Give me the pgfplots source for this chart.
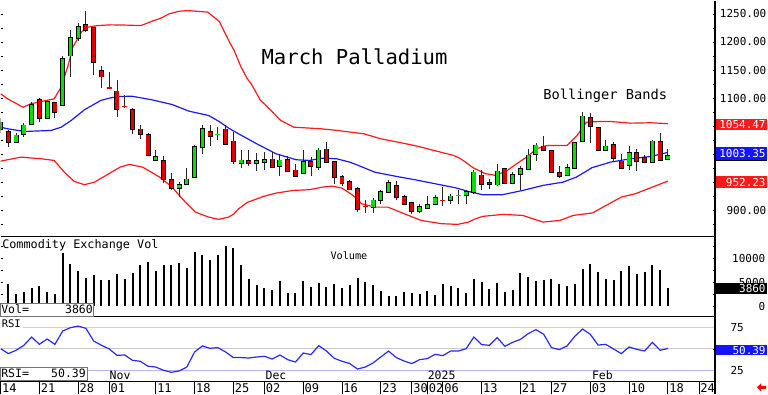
\documentclass[border=0pt]{standalone}
\usepackage{pgfplots}
\pgfplotsset{compat=1.18}
\usepackage{pgfplotstable}
\usepackage{fontspec}
\setmainfont{DejaVu Sans Mono}
\newcommand\fs[1]{\fontsize{#1}{#1}\selectfont}
\definecolor{cgreen}{RGB}{0,225,0}
\definecolor{cred}{RGB}{225,0,0}
\definecolor{bandred}{RGB}{255,25,25}
\definecolor{bandblue}{RGB}{25,25,255}
\definecolor{rsiblue}{RGB}{40,40,255}
\definecolor{boxred}{RGB}{255,25,25}
\definecolor{boxblue}{RGB}{20,20,255}

\pgfplotstableread{
i O H L C
0 1044.2 1063.7 1037.0 1056.6
2 1021.6 1037.6 1019.8 1033.5
3 1035.3 1055.4 1030.5 1051.3
4 1053.1 1092.7 1051.3 1088.6
6 1065.0 1094.0 1063.2 1092.7
8 1086.9 1175.8 1085.1 1170.0
9 1175.8 1221.6 1138.5 1206.6
10 1207.3 1233.3 1201.3 1227.4
20 989.0 1008.0 987.2 994.9
23 940.4 950.4 923.7 945.8
24 947.5 976.0 946.3 955.2
25 959.3 1016.9 958.2 1012.7
26 1012.7 1051.3 999.7 1045.4
31 984.9 1006.8 976.0 989.0
33 984.2 1002.0 969.4 987.7
34 986.0 1003.8 972.4 990.2
36 979.6 997.9 960.5 989.0
39 966.4 1006.8 965.3 986.0
41 977.1 1011.6 972.4 1006.8
48 905.9 922.6 895.2 917.8
49 917.8 936.9 911.9 932.6
50 932.6 954.6 930.8 948.6
54 898.8 911.9 895.2 905.9
55 904.8 924.9 903.0 910.2
56 910.7 926.7 908.9 922.6
58 917.8 929.7 911.9 924.9
60 926.7 936.9 911.9 932.6
61 932.1 971.2 928.5 967.6
64 945.8 981.9 942.7 969.4
66 949.3 968.2 947.5 963.5
67 965.3 978.3 935.6 974.2
68 974.2 1009.8 972.4 997.9
69 999.7 1019.8 987.7 1015.7
73 962.3 983.1 960.5 976.0
74 976.0 1021.6 974.2 1019.8
75 1022.8 1074.9 1021.6 1067.3
78 1008.0 1024.6 1005.5 1013.9
81 980.1 1013.9 971.2 1002.0
84 986.0 1024.6 984.9 1022.8
86 990.8 1009.8 989.0 996.6
}\upc

\pgfplotstableread{
i O H L C
1 1039.4 1042.4 1012.7 1021.6
5 1097.0 1099.9 1057.1 1065.0
7 1091.0 1092.7 1065.0 1074.9
11 1231.0 1255.9 1217.3 1221.6
12 1224.4 1225.1 1142.0 1163.9
13 1147.9 1156.8 1118.4 1138.5
15 1111.8 1132.6 1066.0 1081.0
17 1079.7 1082.8 1036.5 1044.2
18 1044.2 1052.5 1027.6 1035.3
19 1034.7 1037.6 997.4 999.1
21 987.7 996.6 948.6 956.4
22 954.6 966.4 936.9 940.4
27 1039.4 1051.3 1015.2 1031.7
29 1044.2 1051.3 1017.5 1018.7
30 1022.8 1039.4 983.1 987.2
32 987.7 1006.8 978.3 984.2
35 990.8 1003.8 976.0 977.1
37 990.2 996.1 968.2 970.0
38 971.2 981.9 960.5 961.1
40 986.0 994.9 960.5 978.3
42 1008.6 1021.6 984.2 986.0
43 986.0 987.2 947.5 959.3
44 959.3 962.3 942.7 948.6
45 950.4 954.6 935.6 936.9
46 938.6 941.5 897.0 903.0
51 943.3 952.2 917.8 923.7
52 923.7 926.7 910.7 911.9
53 913.7 914.9 894.1 898.8
62 962.3 972.4 936.9 947.5
63 948.6 956.4 937.4 946.3
65 974.2 976.0 948.6 949.3
70 1013.9 1031.7 1005.5 1006.8
71 1005.5 1008.0 966.4 968.2
72 967.1 978.3 958.2 961.1
76 1065.0 1073.2 1019.8 1049.5
77 1047.2 1048.2 1005.5 1008.0
79 1016.9 1021.6 987.2 993.8
80 987.2 1000.9 974.2 976.0
82 1002.0 1009.8 970.0 987.7
83 993.8 997.9 984.9 986.0
85 1021.6 1037.6 987.7 989.0
}\downc

\pgfplotstableread{
i O H L C
14 1118.4 1146.1 1116.6 1117.1
16 1085.6 1104.7 1082.8 1084.5
47 907.7 919.1 895.2 906.6
57 918.4 941.5 908.4 917.3
}\dojired

\pgfplotstableread{
i O H L C
28 1034.2 1048.2 1025.8 1035.3
59 926.2 935.6 911.9 927.3
}\dojigreen

\pgfplotstableread{
i p
0 1107.7
0.9 1098.8
2.9 1083.8
3.9 1089.9
6.9 1098.8
7.8 1119.4
8.7 1158.0
9.3 1190.6
10.4 1217.3
11.2 1226.2
12.5 1229.2
14.2 1230.5
16 1230.1
18.1 1229.2
19.5 1236.9
20.7 1242.6
21.7 1250.0
23 1254.7
24.1 1255.9
26.7 1253.2
28.2 1236.3
29.4 1202.5
30.1 1184.7
31 1155.0
31.8 1134.4
32.3 1125.5
33.5 1095.8
34 1089.9
36.1 1060.2
37.8 1048.2
41.3 1045.4
43.4 1042.4
46.8 1036.5
49 1027.6
51.2 1021.6
53.3 1015.7
55 1009.8
56.7 1003.8
58.4 997.9
59.3 992.0
60.2 983.1
60.9 976.0
62.5 965.3
63.9 962.3
65.3 971.2
66.5 983.1
67.8 994.9
69.1 1009.8
70.4 1015.7
73 1015.7
74.3 1033.5
75.5 1057.1
77.3 1058.4
78.6 1058.4
81.2 1055.4
83.8 1056.1
86 1054.47
}\upperband

\pgfplotstableread{
i p
0 1048.2
0.9 1045.4
3.1 1040.6
6.5 1042.4
7.8 1048.2
9.1 1060.2
10.8 1079.2
12.9 1095.8
14.2 1100.6
15.5 1102.9
16.9 1103.4
19.5 1097.0
22.1 1088.6
24.3 1076.7
26.8 1069.1
28.1 1058.9
29.4 1046.5
30.6 1037.0
33 1018.7
35.5 1000.9
38.1 990.2
39.8 989.0
41.5 993.1
43.3 992.0
45 986.0
45.8 981.9
48.2 968.2
50.8 961.1
53.4 954.6
56 947.5
58.6 940.4
60.3 933.8
61.2 930.8
62.1 928.0
64.7 928.0
67.3 935.6
69.9 944.5
72.5 950.4
74.2 959.3
75.5 970.0
76.2 976.0
78.6 986.0
81.2 992.0
83.8 996.1
86 1003.35
}\midband

\pgfplotstableread{
i p
0 987.7
0.9 990.2
2.6 994.9
5.2 992.0
6.9 989.0
8.2 968.2
9.5 951.6
10.8 945.8
12.1 950.4
13.8 964.1
15.4 977.1
16.6 981.9
18.3 977.1
20.5 959.3
22.1 941.5
23.8 914.8
25.1 897.0
26.8 888.1
28.1 884.0
29.4 888.1
30.1 894.1
30.7 903.0
31.8 914.3
33.9 925.0
35.5 930.8
37.7 935.6
39.8 936.9
41.5 941.5
42.7 943.3
44 939.7
45.1 929.7
45.9 921.4
46.5 911.9
48.2 905.9
49.9 905.9
52 894.1
54.2 882.2
56.8 876.4
58.9 875.1
60.3 879.2
61 884.0
62.1 889.3
64.7 892.9
67.3 891.1
69.9 879.2
72.1 882.2
73.8 891.1
75.5 894.1
76.3 895.6
77.8 907.1
80 923.7
81.8 929.7
83.8 940.4
86 952.23
}\lowerband

\pgfplotstableread{
i V
1 4521
2 2583
3 2854
4 3750
5 4167
6 2854
7 2583
8 11125
9 8833
10 7229
11 5917
12 6458
13 5354
14 5354
15 6604
16 5708
17 6958
18 8542
19 9250
20 7375
21 8542
22 8625
23 9042
24 7854
25 11187
26 10562
27 9583
28 10708
29 12437
30 12021
31 8625
32 5562
33 4312
34 3750
35 3271
36 5146
37 2708
38 2708
39 5292
40 3958
41 4875
42 3958
43 4521
44 3750
45 4312
46 5771
47 5083
48 4458
49 3125
50 2021
51 2166
52 2916
53 2708
54 2500
55 3208
56 2375
57 4521
58 4167
59 3750
60 2708
61 5562
62 4937
63 3625
64 4729
65 2854
66 3416
67 6875
68 6041
69 5146
70 5500
71 5562
72 4521
73 4104
74 4521
75 7791
76 8687
77 7083
78 5708
79 5500
80 7229
81 8271
82 6750
83 7021
84 8479
85 7437
86 3860
}\vol

\pgfplotstableread{
i R
0 50.2
1 44.4
2 48.3
3 54.1
4 63.7
5 55.2
6 61.4
7 55.2
8 70.7
9 74.6
10 76.5
11 73.8
12 59.1
13 54.1
14 49.8
15 42.4
16 42.8
17 36.6
18 35.5
19 29.7
20 28.8
21 25.0
22 22.7
23 24.2
24 28.8
25 46.3
26 53.3
27 50.6
28 51.4
29 46.3
30 39.8
31 39.8
32 39.3
33 40.5
34 41.3
35 38.1
36 42.8
37 37.4
38 34.6
39 45.1
40 43.3
41 53.7
42 47.4
43 39.0
44 35.5
45 32.8
46 26.5
47 28.8
48 33.5
49 40.5
50 47.4
51 39.8
52 35.8
53 32.8
54 37.4
55 38.6
56 43.6
57 42.1
58 47.4
59 47.4
60 50.2
61 63.7
62 54.9
63 54.1
64 63.0
65 52.9
66 57.6
67 61.0
68 67.7
69 72.3
70 66.9
71 51.4
72 49.1
73 53.3
74 64.5
75 73.0
76 66.9
77 54.4
78 55.2
79 49.8
80 44.4
81 52.1
82 49.4
83 47.4
84 57.6
85 48.3
86 50.39
}\rsi

\pgfplotsset{
  panel/.style={scale only axis, width=715pt, xmin=0, xmax=92.08,
    axis line style={draw=none}, xtick=\empty, clip=true,
    tick align=inside, major tick length=2.5pt,
    tick style={black, line width=0.6pt},
    yticklabel pos=right, scaled y ticks=false,
    yticklabel style={anchor=east, inner sep=0pt, font=\fs{11}},
  },
  wick/.style={draw=none, forget plot, error bars/.cd, y dir=plus, y explicit,
    error mark=none, error bar style={draw=black!85, line width=0.9pt}},
  bodyborder/.style={draw=none, forget plot, error bars/.cd, y dir=plus, y explicit,
    error mark=none, error bar style={draw=black, line width=5pt}},
  bodyfill/.style={draw=none, forget plot, error bars/.cd, y dir=plus, y explicit,
    error mark=none, error bar style={draw=#1, line width=3.3pt}},
}

\begin{document}
\begin{tikzpicture}[x=1pt, y=1pt]

% ---------- price panel ----------
\begin{axis}[panel, at={(0pt,158pt)}, anchor=south west, height=236pt,
  ymin=853.7, ymax=1273.7,
  ytick={875,900,...,1250},
  yticklabels={,900.00,,,,,,,,1100.00,,1150.00,,1200.00,,1250.00},
  yticklabel style={xshift=51.5pt}]
\addplot[bandred, line width=1.2pt] table[x=i, y=p] {\upperband};
\addplot[bandred, line width=1.2pt] table[x=i, y=p] {\lowerband};
\addplot[bandblue, line width=1.2pt] table[x=i, y=p] {\midband};
% wicks
\addplot[wick] table[x=i, y=L, y error plus expr=\thisrow{H}-\thisrow{L}] {\upc};
\addplot[wick] table[x=i, y=L, y error plus expr=\thisrow{H}-\thisrow{L}] {\downc};
\addplot[wick] table[x=i, y=L, y error plus expr=\thisrow{H}-\thisrow{L}] {\dojired};
\addplot[wick] table[x=i, y=L, y error plus expr=\thisrow{H}-\thisrow{L}] {\dojigreen};
% bodies
\addplot[bodyborder] table[x=i, y expr={min(\thisrow{O},\thisrow{C})-1.4}, y error plus expr={abs(\thisrow{C}-\thisrow{O})+2.8}] {\upc};
\addplot[bodyborder] table[x=i, y expr={min(\thisrow{O},\thisrow{C})-1.4}, y error plus expr={abs(\thisrow{C}-\thisrow{O})+2.8}] {\downc};
\addplot[bodyfill=cgreen] table[x=i, y expr={min(\thisrow{O},\thisrow{C})}, y error plus expr={abs(\thisrow{C}-\thisrow{O})}] {\upc};
\addplot[bodyfill=cred] table[x=i, y expr={min(\thisrow{O},\thisrow{C})}, y error plus expr={abs(\thisrow{C}-\thisrow{O})}] {\downc};
\addplot[only marks, mark=-, mark size=2.6pt, cred, mark options={line width=1.4pt}] table[x=i, y expr={(\thisrow{O}+\thisrow{C})/2}] {\dojired};
\addplot[only marks, mark=-, mark size=2.6pt, cgreen, mark options={line width=1.4pt}] table[x=i, y expr={(\thisrow{O}+\thisrow{C})/2}] {\dojigreen};
\end{axis}

% ---------- volume panel ----------
\begin{axis}[panel, at={(0pt,78pt)}, anchor=south west, height=80pt,
  ymin=-2146, ymax=14521,
  ytick={0,2500,...,12500},
  yticklabels={0,,5000,,10000,},
  yticklabel style={xshift=50.5pt}]
\addplot[ycomb, black, line width=2pt] table[x=i, y=V] {\vol};
\end{axis}

% ---------- RSI panel ----------
\begin{axis}[panel, at={(0pt,13pt)}, anchor=south west, height=65pt,
  ymin=12.2, ymax=87.8,
  ytick={25,50,75},
  yticklabels={25,,75},
  yticklabel style={xshift=29pt}]
\addplot[color={rgb,255:red,255;green,190;blue,190}, line width=1pt] coordinates {(0,75) (92.08,75)};
\addplot[color={rgb,255:red,200;green,200;blue,200}, line width=1pt] coordinates {(0,50) (92.08,50)};
\addplot[color={rgb,255:red,180;green,180;blue,255}, line width=1pt] coordinates {(0,25) (92.08,25)};
\addplot[rsiblue, line width=1.2pt] table[x=i, y=R] {\rsi};
\end{axis}

% ---------- date strip ----------
\begin{axis}[scale only axis, width=715pt, height=13pt, at={(0pt,0pt)}, anchor=south west,
  xmin=0, xmax=92.08, ymin=0, ymax=1, axis line style={draw=none}, ytick=\empty,
  xtick={0,5,10,14,20,25,30,34,39,44,49,53,55,57,62,67,71,76,81,86,90},
  xticklabels={14,21,28,01,11,18,25,02,09,16,23,30,02,06,13,21,27,03,10,18,24},
  xtick pos=bottom, tick align=inside, major tick length=13pt,
  xtick style={black, line width=0.8pt},
  xticklabel style={anchor=base west, inner sep=0pt, xshift=1.3pt, yshift=1.6pt, font=\fs{12}}]
\addplot[draw=none] coordinates {(0,0.5)};
\end{axis}

% ---------- frame lines ----------
\draw[black, line width=1.2pt] (0,158) -- (715,158);
\draw[black, line width=1.2pt] (0,78) -- (715,78);
\draw[black, line width=1.2pt] (0,13) -- (715,13);
\draw[black, line width=1.2pt] (715,0) -- (715,394);

% ---------- texts ----------
\node[anchor=base west, inner sep=0pt, font=\fs{20.6}] at (261,329.7) {March Palladium};
\node[anchor=base west, inner sep=0pt, font=\fs{13.7}] at (543,294.7) {Bollinger Bands};
\node[anchor=base west, inner sep=0pt, font=\fs{11.8}] at (1.5,146) {Commodity Exchange Vol};
\node[anchor=base west, inner sep=0pt, font=\fs{10.2}] at (330,134.7) {Volume};

\filldraw[fill=white, draw=black!55, line width=0.7pt] (0,78) rectangle (93.3,90.7);
\node[anchor=base west, inner sep=0pt, font=\fs{11.5}] at (0.5,80.7) {Vol=};
\node[anchor=base east, inner sep=0pt, font=\fs{11.5}] at (92.5,80.7) {3860};

\fill[white] (0,65.5) rectangle (22.5,77.4);
\node[anchor=base west, inner sep=0pt, font=\fs{10.5}] at (1,66.7) {RSI};

\filldraw[fill=white, draw=black!55, line width=0.7pt] (0,13.6) rectangle (87.3,27.3);
\node[anchor=base west, inner sep=0pt, font=\fs{11.5}] at (0.5,16.7) {RSI=};
\node[anchor=base east, inner sep=0pt, font=\fs{11.5}] at (85.5,16.7) {50.39};

\node[anchor=base west, inner sep=0pt, font=\fs{11.5}] at (109,14.8) {Nov};
\node[anchor=base west, inner sep=0pt, font=\fs{11.5}] at (265,14.8) {Dec};
\node[anchor=base west, inner sep=0pt, font=\fs{11.5}] at (427.3,14.8) {2025};
\node[anchor=base west, inner sep=0pt, font=\fs{11.5}] at (591.7,14.8) {Feb};

% ---------- right-hand value boxes ----------
\fill[boxred] (715.7,264) rectangle (766.7,275.7);
\node[anchor=base east, inner sep=0pt, text=white, font=\fs{11}] at (765.8,265.9) {1054.47};
\fill[boxblue] (715.7,234) rectangle (766.7,247.3);
\draw[black, line width=1.2pt] (715.7,234.3) -- (766.7,234.3);
\node[anchor=base east, inner sep=0pt, text=white, font=\fs{11}] at (765.8,236.8) {1003.35};
\fill[boxred] (715.7,206.7) rectangle (766.7,218);
\node[anchor=base east, inner sep=0pt, text=white, font=\fs{11}] at (765.8,208.4) {952.23};
\fill[black] (715.7,100.7) rectangle (766.7,111.3);
\node[anchor=base east, inner sep=0pt, text=white, font=\fs{11}] at (765.8,102.1) {3860};
\fill[boxblue] (715.7,39) rectangle (766.7,49);
\node[anchor=base east, inner sep=0pt, text=white, font=\fs{11}] at (765.8,40.1) {50.39};

% red arrow
\fill[red] (757,7) -- (761,11) -- (761,8.5) -- (766,8.5) -- (766,5.5) -- (761,5.5) -- (761,3) -- cycle;

\path (0,0) rectangle (768,394);
\end{tikzpicture}
\end{document}
